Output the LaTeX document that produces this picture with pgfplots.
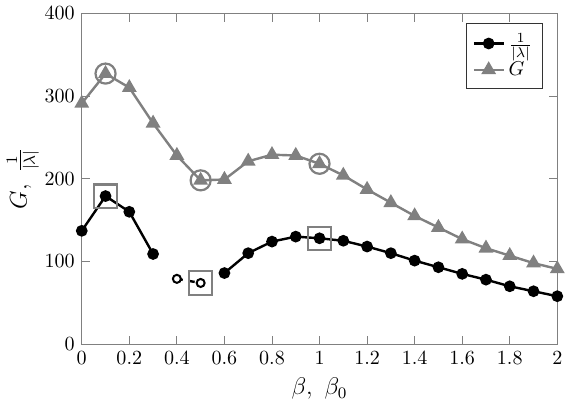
\documentclass[border=0pt]{standalone}
\usepackage{pgfplots}
\pgfplotsset{compat=1.18}
\begin{document}
\begin{tikzpicture}
\begin{axis}[
  scale only axis, width=237pt, height=165pt,
  xmin=0, xmax=2, ymin=0, ymax=400,
  xtick={0,0.2,...,2.0},
  ytick={0,100,200,300,400},
  axis line style={gray},
  every tick/.style={gray},
  xlabel={\large $\beta,\ \beta_0$},
  ylabel={\large $G,\ \frac{1}{|\lambda|}$},
  ylabel style={yshift=-4pt},
  legend pos=north east,
  legend style={draw=black!80, font=\normalsize, legend cell align=left, row sep=0pt, inner sep=3pt},
  legend image code/.code={\draw[mark repeat=2,mark phase=2,#1] plot coordinates {(0cm,0cm) (0.26cm,0cm) (0.52cm,0cm)};},
]
\addplot[black, line width=1.2pt, mark=*, mark size=2.3pt] coordinates {
(0,137) (0.1,179) (0.2,160) (0.3,109)};
\addlegendentry{$\frac{1}{|\lambda|}$}
\addplot[gray, line width=1.2pt, mark=triangle*, mark size=3.1pt] coordinates {
(0,291) (0.1,327) (0.2,310) (0.3,267) (0.4,228) (0.5,198) (0.6,199) (0.7,221)
(0.8,229) (0.9,228) (1.0,218) (1.1,204) (1.2,187) (1.3,171) (1.4,155) (1.5,141)
(1.6,127) (1.7,116) (1.8,107) (1.9,98) (2.0,91)};
\addlegendentry{$G$}
\addplot[black, line width=1.2pt, mark=*, mark size=2.3pt, forget plot] coordinates {
(0.6,86) (0.7,110) (0.8,124) (0.9,130) (1.0,128) (1.1,125) (1.2,118) (1.3,110)
(1.4,101) (1.5,93) (1.6,85) (1.7,78) (1.8,70) (1.9,64) (2.0,58)};
\addplot[black, line width=1.2pt, dashed, mark=*, mark size=2pt,
  mark options={solid, fill=white, line width=1pt}, forget plot] coordinates {
(0.4,79) (0.5,74)};
\addplot[gray, only marks, mark=o, mark size=5pt, line width=1.1pt, forget plot] coordinates {
(0.1,327) (0.5,198) (1.0,218)};
\addplot[gray, only marks, mark=square, mark size=5.8pt, line width=1.1pt, forget plot] coordinates {
(0.1,179) (0.5,74) (1.0,128)};
\end{axis}
\end{tikzpicture}
\end{document}
